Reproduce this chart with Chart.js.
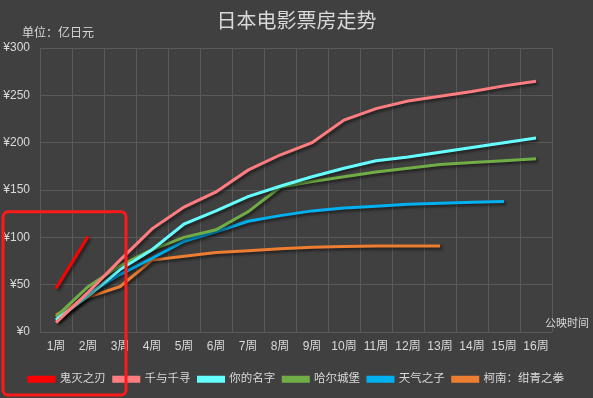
<!DOCTYPE html>
<html>
<head>
<meta charset="utf-8">
<script src="https://cdn.jsdelivr.net/npm/chart.js@4"></script>
<style>
html,body{margin:0;padding:0;background:#404040;}
#wrap{width:593px;height:398px;}
</style>
</head>
<body>
<div id="wrap"><canvas id="c" width="593" height="398"></canvas></div>
<script>
const chartTitle = "日本电影票房走势";
const unitLabel = "单位：亿日元";
const xAxisTitle = "公映时间";
const weeks = ["1周","2周","3周","4周","5周","6周","7周","8周","9周","10周","11周","12周","13周","14周","15周","16周"];
const yTicks = [0, 50, 100, 150, 200, 250, 300];

const seriesNames = ["鬼灭之刃","千与千寻","你的名字","哈尔城堡","天气之子","柯南：绀青之拳"];
const kimetsu = [46, 101];
const sentochihiro = [10, 42, 76, 109, 132, 148, 171, 187, 200, 224, 236, 244, 249, 254, 260, 265];
const kiminonawa = [13, 38, 66, 87, 114, 128, 143, 154, 164, 173, 181, 185, 190, 195, 200, 205];
const howl = [16, 48, 70, 87, 100, 108, 127, 153, 159, 164, 169, 173, 177, 179, 181, 183];
const tenki = [12, 40, 61, 78, 96, 106, 117, 123, 128, 131, 133, 135, 136, 137, 138];
const conan = [18, 37, 48, 76, 80, 84, 86, 88, 89.5, 90.5, 91, 91, 91];
const seriesData = [kimetsu, sentochihiro, kiminonawa, howl, tenki, conan];
const seriesColors = ["#ff0000","#ff7c80","#66ffff","#70ad47","#00b0f0","#ed7d31"];

const textColor = "#d9d9d9";
const fontFamily = "'Liberation Sans','Noto Sans CJK SC',sans-serif";

const decorPlugin = {
  id: 'decor',
  beforeDatasetsDraw(chart) {
    const ctx = chart.ctx;
    ctx.save();
    ctx.shadowColor = 'rgba(0,0,0,0.55)';
    ctx.shadowOffsetX = 2;
    ctx.shadowOffsetY = 2;
    ctx.shadowBlur = 3;
  },
  afterDatasetsDraw(chart) {
    chart.ctx.restore();
  },
  afterDraw(chart) {
    const ctx = chart.ctx;
    const ca = chart.chartArea;
    const xs = chart.scales.x, ys = chart.scales.y;
    ctx.save();
    ctx.fillStyle = textColor;
    ctx.textAlign = 'center';
    ctx.textBaseline = 'middle';
    ctx.font = "20px 'Noto Sans CJK SC',sans-serif";
    ctx.fillText(chartTitle, chart.width / 2, 20);
    ctx.font = "12px 'Noto Sans CJK SC',sans-serif";
    ctx.textAlign = 'left';
    ctx.fillText(unitLabel, 22, 32);
    ctx.font = "11px 'Noto Sans CJK SC',sans-serif";
    ctx.fillText(xAxisTitle, ca.right - 7, ca.bottom - 9);
    // highlight box around the first series
    const left = 3;
    const right = xs.getPixelForValue(2) + 6;
    const top = ys.getPixelForValue(127);
    const bottom = chart.height - 3;
    ctx.strokeStyle = '#ff1a1a';
    ctx.lineWidth = 3;
    ctx.beginPath();
    ctx.roundRect(left, top, right - left, bottom - top, 5);
    ctx.stroke();
    ctx.restore();
  }
};

new Chart(document.getElementById('c'), {
  type: 'line',
  data: {
    labels: weeks,
    datasets: seriesNames.map((n, i) => ({
      label: n,
      data: seriesData[i],
      borderColor: seriesColors[i],
      backgroundColor: seriesColors[i],
      borderWidth: 3,
      pointRadius: 0,
      tension: 0,
      fill: false
    }))
  },
  options: {
    responsive: false,
    animation: false,
    devicePixelRatio: 1,
    layout: { padding: { top: 48, right: 0, left: 0, bottom: 3 } },
    plugins: {
      legend: {
        position: 'bottom',
        labels: {
          color: textColor,
          boxWidth: 25,
          boxHeight: 4,
          padding: 8,
          font: { family: fontFamily, size: 11.5 }
        }
      },
      tooltip: { enabled: false },
      title: { display: false }
    },
    scales: {
      x: {
        offset: true,
        afterFit(s) { s.height += 5; },
        grid: { color: '#595959', lineWidth: 1, drawTicks: false, offset: true },
        border: { display: false },
        ticks: { color: textColor, padding: 7, maxRotation: 0, autoSkip: false, font: { family: fontFamily, size: 12 } }
      },
      y: {
        min: 0, max: 300,
        afterFit(s) { s.width = 40; },
        afterBuildTicks(s) { s.ticks = yTicks.map(v => ({ value: v })); },
        grid: { color: '#595959', lineWidth: 1, drawTicks: false },
        border: { display: false },
        ticks: { color: textColor, padding: 10, font: { family: fontFamily, size: 12 }, callback: v => '¥' + v }
      },
      ySpace: {
        position: 'right',
        min: 0, max: 300,
        afterFit(s) { s.width = 41; },
        grid: { display: false, drawTicks: false },
        border: { display: false },
        ticks: { display: false }
      }
    }
  },
  plugins: [decorPlugin]
});
</script>
</body>
</html>
